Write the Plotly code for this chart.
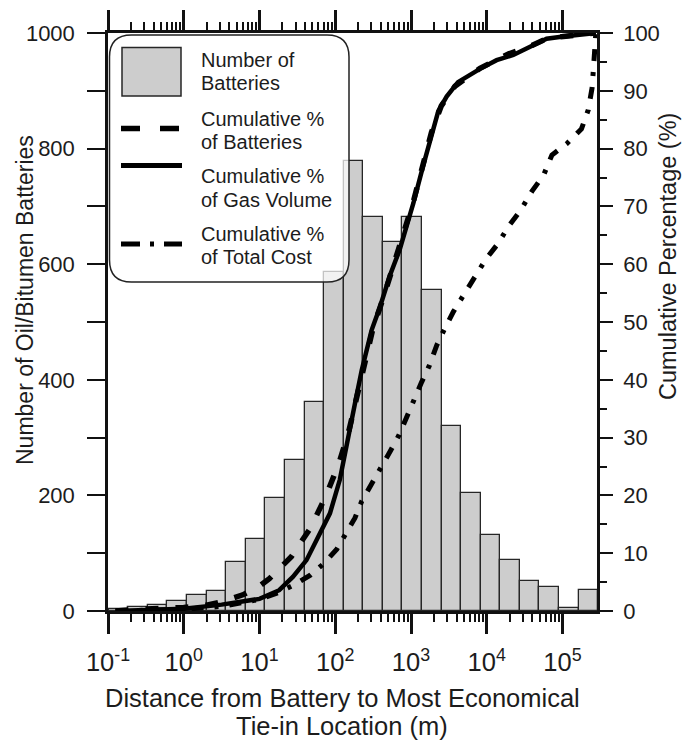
import numpy as np
import plotly.graph_objects as go

# ---------------- data ----------------
# histogram: 25 equal bins in log10(distance, m)
battery_counts = [3, 7, 10, 17, 28, 35, 84, 125, 196, 262, 362, 587, 779,
                  681, 639, 681, 555, 320, 204, 132, 89, 52, 42, 6, 37]
log_bin_min, log_bin_max = -0.99, 5.47

# cumulative % curves (x = log10 distance in m, y = %)
bat_logd = [-0.9, -0.6, 0.0, 0.3, 0.5, 0.78, 1.0, 1.13, 1.42, 1.67, 1.88, 2.05,
            2.18, 2.29, 2.40, 2.50, 2.63, 2.89, 3.03, 3.16, 3.27, 3.40, 3.58,
            3.91, 4.29, 4.57, 4.79, 5.01, 5.23, 5.44]
bat_pct = [0.0, 0.3, 0.6, 1.0, 1.6, 2.8, 4.3, 5.6, 9.4, 14.3, 20.0, 25.6,
           31.2, 37.5, 44.0, 49.0, 54.0, 64.5, 70.8, 77.3, 82.8, 87.4, 90.8,
           93.9, 96.4, 97.7, 99.0, 99.4, 99.7, 100.0]

gas_logd = [-0.9, -0.5, 0.0, 0.5, 0.75, 1.0, 1.26, 1.44, 1.62, 1.80, 1.93, 2.06,
            2.15, 2.26, 2.35, 2.48, 2.59, 2.72, 2.85, 3.03, 3.16, 3.27, 3.36,
            3.47, 3.62, 3.91, 4.13, 4.35, 4.57, 4.79, 5.01, 5.23, 5.40, 5.44]
gas_pct = [0.0, 0.1, 0.4, 1.1, 1.6, 2.1, 3.6, 5.9, 8.8, 13.4, 16.9, 22.7,
           29.0, 35.9, 41.7, 48.6, 52.6, 58.0, 62.5, 70.5, 77.0, 82.5, 86.5,
           89.0, 91.5, 93.8, 95.3, 96.2, 97.6, 99.0, 99.4, 99.7, 99.8, 100.0]

cost_logd = [-0.9, -0.5, 0.0, 0.5, 1.0, 1.25, 1.47, 1.67, 1.84, 2.02, 2.13, 2.26,
             2.35, 2.48, 2.60, 2.72, 2.84, 2.92, 3.02, 3.14, 3.24, 3.34, 3.45,
             3.56, 3.71, 3.83, 3.99, 4.15, 4.29, 4.45, 4.60, 4.75, 4.86, 5.06,
             5.25, 5.34, 5.39, 5.41, 5.43, 5.44]
cost_pct = [0.0, 0.1, 0.3, 0.8, 2.0, 3.2, 4.6, 6.2, 8.1, 10.7, 13.1, 16.1,
            19.0, 21.9, 24.9, 27.5, 30.4, 33.0, 36.0, 39.6, 42.4, 46.0, 49.0,
            51.8, 55.0, 57.7, 60.9, 63.6, 66.6, 69.4, 72.7, 75.4, 78.9, 80.9,
            83.4, 86.7, 90.5, 94.2, 97.5, 100.0]

x_exponents = [-1, 0, 1, 2, 3, 4, 5]
left_ticks = list(range(0, 1001, 200))
left_minor = list(range(100, 1000, 200))
right_ticks = list(range(0, 101, 10))
right_minor = list(range(5, 100, 10))

legend_lines = [["Number of", "Batteries"],
                ["Cumulative %", "of Batteries"],
                ["Cumulative %", "of Gas Volume"],
                ["Cumulative %", "of Total Cost"]]

# ---------------- geometry ----------------
W, H = 687, 741
ML, MR, MT, MB = 108, 90, 33, 130
PW, PH = W - ML - MR, H - MT - MB
XR = [-1, 5.455]
FONT = "Liberation Sans, Arial, sans-serif"
INK = "#111111"
TXT = "#1c1c1c"


def px(x):
    return (x - ML) / PW


def py(y):
    return (H - MB - y) / PH


edges = np.linspace(log_bin_min, log_bin_max, len(battery_counts) + 1)
centers = (edges[:-1] + edges[1:]) / 2
widths = np.diff(edges)

minor_vals = [e + np.log10(k) for e in x_exponents[:-1] for k in range(2, 10)]

fig = go.Figure()
fig.add_trace(go.Bar(x=centers, y=battery_counts, width=widths,
                     marker=dict(color="#cdcdcd", line=dict(color="#262626", width=1.3)),
                     showlegend=False, hoverinfo="skip"))
fig.add_trace(go.Scatter(x=gas_logd, y=gas_pct, yaxis="y2", mode="lines",
                         line=dict(color="black", width=4.5), showlegend=False))
fig.add_trace(go.Scatter(x=bat_logd, y=bat_pct, yaxis="y2", mode="lines",
                         line=dict(color="black", width=5.5, dash="13px,17px"),
                         showlegend=False))
fig.add_trace(go.Scatter(x=cost_logd, y=cost_pct, yaxis="y2", mode="lines",
                         line=dict(color="black", width=5, dash="12px,11px,4px,11px"),
                         showlegend=False))
fig.add_trace(go.Scatter(x=[XR[0]], y=[0], xaxis="x2", mode="markers",
                         marker=dict(opacity=0), showlegend=False, hoverinfo="skip"))

xt = dict(range=XR, tickmode="array", tickvals=x_exponents,
          ticks="outside", ticklen=20, tickwidth=2.5, tickcolor=INK,
          showline=True, linecolor=INK, linewidth=2.5, showgrid=False, zeroline=False,
          minor=dict(tickmode="array", tickvals=minor_vals, ticks="outside",
                     ticklen=8, tickwidth=2, tickcolor=INK))

fig.update_layout(
    width=W, height=H, margin=dict(l=ML, r=MR, t=MT, b=MB),
    paper_bgcolor="white", plot_bgcolor="white",
    font=dict(family=FONT, color=TXT),
    bargap=0,
    xaxis=dict(**xt, ticktext=[f"10<sup>{e}</sup>" for e in x_exponents],
               tickfont=dict(size=25.5, family=FONT, color=TXT), anchor="y",
               ticklabelstandoff=7),
    xaxis2=dict(**xt, overlaying="x", side="top", anchor="y", showticklabels=False),
    yaxis=dict(range=[0, 1000], tickmode="array", tickvals=left_ticks,
               ticks="outside", ticklen=18, tickwidth=2, tickcolor=INK,
               showline=True, linecolor=INK, linewidth=2.5, showgrid=False,
               zeroline=False, tickfont=dict(size=22, family=FONT, color=TXT),
               minor=dict(tickmode="array", tickvals=left_minor, ticks="outside",
                          ticklen=18, tickwidth=2, tickcolor=INK),
               ticklabelstandoff=8),
    yaxis2=dict(range=[0, 100], overlaying="y", side="right", anchor="x",
                tickmode="array", tickvals=right_ticks,
                ticks="outside", ticklen=13, tickwidth=2, tickcolor=INK,
                showline=True, linecolor=INK, linewidth=2.5, showgrid=False,
                zeroline=False, tickfont=dict(size=22, family=FONT, color=TXT),
                minor=dict(tickmode="array", tickvals=right_minor,
                           ticks="outside", ticklen=7, tickwidth=2, tickcolor=INK),
                ticklabelstandoff=6),
)

ann = []
# axis titles
ann.append(dict(x=px(342), y=py(698), xref="paper", yref="paper", showarrow=False,
                text="Distance from Battery to Most Economical",
                font=dict(size=25.5, family=FONT, color=TXT), xanchor="center", yanchor="middle"))
ann.append(dict(x=px(342), y=py(726), xref="paper", yref="paper", showarrow=False,
                text="Tie-in Location (m)",
                font=dict(size=25.5, family=FONT, color=TXT), xanchor="center", yanchor="middle"))
ann.append(dict(x=px(25), y=py(300), xref="paper", yref="paper", showarrow=False,
                text="Number of Oil/Bitumen Batteries", textangle=-90,
                font=dict(size=23, family=FONT, color=TXT), xanchor="center", yanchor="middle"))
ann.append(dict(x=px(668), y=py(257), xref="paper", yref="paper", showarrow=False,
                text="Cumulative Percentage (%)", textangle=-90,
                font=dict(size=23.5, family=FONT, color=TXT), xanchor="center", yanchor="middle"))

# custom legend
x0, x1, y0, y1 = px(109.5), px(349), py(282), py(35)
rx, ry = 22 / PW, 22 / PH
path = (f"M {x0+rx},{y1} L {x1-rx},{y1} Q {x1},{y1} {x1},{y1-ry} "
        f"L {x1},{y0+ry} Q {x1},{y0} {x1-rx},{y0} L {x0+rx},{y0} "
        f"Q {x0},{y0} {x0},{y0+ry} L {x0},{y1-ry} Q {x0},{y1} {x0+rx},{y1} Z")
shapes = [dict(type="path", path=path, xref="paper", yref="paper",
               fillcolor="rgba(255,255,255,0.72)", line=dict(color="#222", width=1.5),
               layer="above"),
          dict(type="rect", xref="paper", yref="paper", x0=px(122), x1=px(181),
               y0=py(96), y1=py(47.5), fillcolor="#cdcdcd",
               line=dict(color="#262626", width=1.5), layer="above"),
          dict(type="line", xref="paper", yref="paper", x0=px(121), x1=px(180),
               y0=py(128.5), y1=py(128.5), line=dict(color="black", width=5.5, dash="19px,20px"),
               layer="above"),
          dict(type="line", xref="paper", yref="paper", x0=px(121), x1=px(182),
               y0=py(165.5), y1=py(165.5), line=dict(color="black", width=5),
               layer="above"),
          dict(type="line", xref="paper", yref="paper", x0=px(121), x1=px(182),
               y0=py(244), y1=py(244), line=dict(color="black", width=5,
                                                 dash="19px,10px,4px,10px"),
               layer="above")]

line_y = [(60, 83.5), (118.5, 141.5), (176, 199.5), (233.5, 256.5)]
for (l1, l2), (ya, yb) in zip(legend_lines, line_y):
    for t, yy in ((l1, ya), (l2, yb)):
        ann.append(dict(x=px(199), y=py(yy), xref="paper", yref="paper", showarrow=False,
                        text=t, font=dict(size=20, family=FONT, color=TXT),
                        xanchor="left", yanchor="middle"))

fig.update_layout(annotations=ann, shapes=shapes)
fig.write_html("out.html")
